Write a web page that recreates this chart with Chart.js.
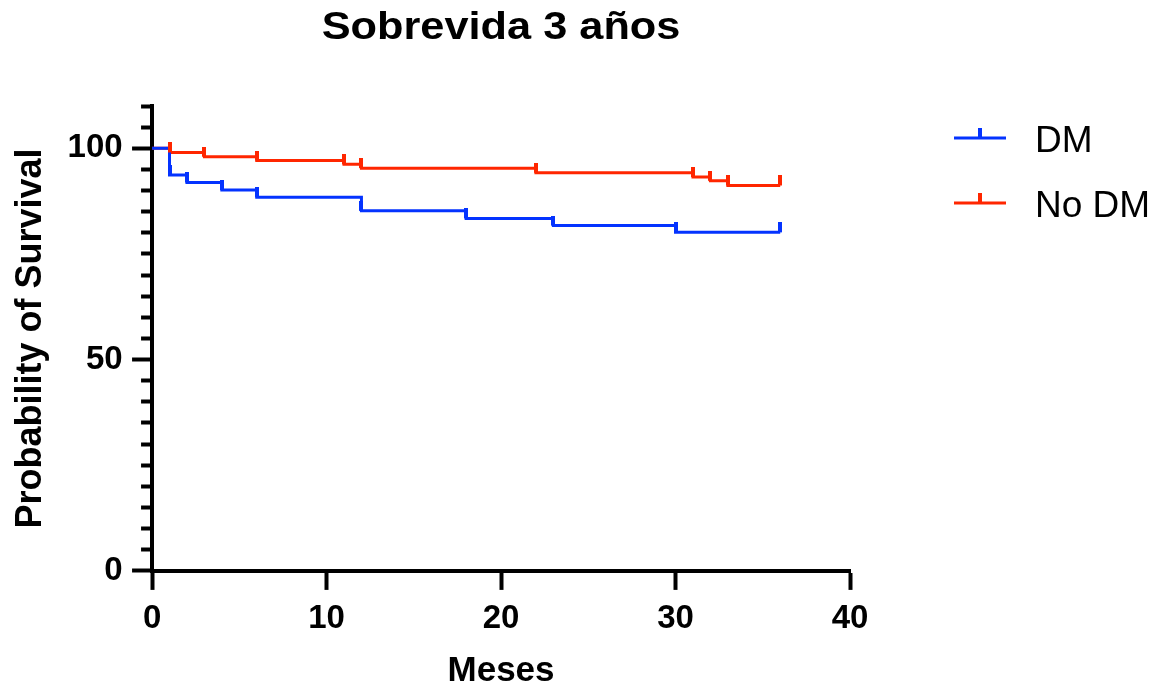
<!DOCTYPE html>
<html>
<head>
<meta charset="utf-8">
<script src="https://cdn.jsdelivr.net/npm/chart.js@4"></script>
<style>
  body { margin: 0; background: #fff; }
  #km { display: block; }
</style>
</head>
<body>
<canvas id="km" width="1159" height="691"></canvas>
<script>
// Kaplan-Meier steps (months, % survival)
const chartTitle = 'Sobrevida 3 años';
const seriesNames = ['DM', 'No DM'];
const seriesColors = ['#0433ff', '#ff2600'];

const dmMonths = [0, 1, 2, 4, 6, 12, 18, 23, 30, 36];
const dmSurvival = [100, 93.7, 91.9, 90.1, 88.4, 85.2, 83.4, 81.7, 80.1, 80.1];
const dmCensorMonths = [1, 2, 4, 6, 12, 18, 23, 30, 36];
const dmCensorSurvival = [93.7, 91.9, 90.1, 88.4, 85.2, 83.4, 81.7, 80.1, 80.1];

const noDmMonths = [0, 1, 3, 6, 11, 12, 22, 31, 32, 33, 36];
const noDmSurvival = [100, 99.0, 98.0, 97.1, 96.2, 95.3, 94.2, 93.2, 92.3, 91.2, 91.2];
const noDmCensorMonths = [1, 3, 6, 11, 12, 22, 31, 32, 33, 36];
const noDmCensorSurvival = [99.0, 98.0, 97.1, 96.2, 95.3, 94.2, 93.2, 92.3, 91.2, 91.2];

const xTicks = [0, 10, 20, 30, 40];
const yLabelled = [0, 50, 100];

function toPoints(xs, ys) {
    return xs.map((x, i) => ({ x: x, y: ys[i] }));
}

// little upward censor tick, used as point style (centered, so only top half is painted)
function censorMark(color) {
    const c = document.createElement('canvas');
    c.width = 4;
    c.height = 20;
    const g = c.getContext('2d');
    g.fillStyle = color;
    g.fillRect(0, 0, 4, 10);
    return c;
}

const font = 'Liberation Sans, Arial, Helvetica, sans-serif';

const titlePlugin = {
    id: 'kmTitle',
    afterDraw(chart) {
        const { ctx, chartArea } = chart;
        ctx.save();
        ctx.fillStyle = '#000';
        ctx.font = 'bold 38px ' + font;
        ctx.textAlign = 'center';
        ctx.textBaseline = 'alphabetic';
        // the original title is set a bit wider than Arial
        ctx.translate((chartArea.left + chartArea.right) / 2, 39);
        ctx.scale(1.14, 1);
        ctx.fillText(chartTitle, 0, 0);
        ctx.restore();
    }
};

const legendPlugin = {
    id: 'kmLegend',
    afterDraw(chart) {
        const { ctx, chartArea } = chart;
        ctx.save();
        seriesNames.forEach((name, i) => {
            const y = 138 + i * 65;
            const x0 = chartArea.right + 104;
            ctx.strokeStyle = seriesColors[i];
            ctx.lineWidth = 3;
            ctx.beginPath();
            ctx.moveTo(x0, y);
            ctx.lineTo(x0 + 52, y);
            ctx.stroke();
            ctx.fillStyle = seriesColors[i];
            ctx.fillRect(x0 + 24, y - 10, 4, 10);
            ctx.fillStyle = '#000';
            ctx.font = '37px ' + font;
            ctx.textAlign = 'left';
            ctx.textBaseline = 'alphabetic';
            ctx.fillText(name, x0 + 81, y + 14);
        });
        ctx.restore();
    }
};

const ctx = document.getElementById('km').getContext('2d');
const myChart = new Chart(ctx, {
    type: 'line',
    data: {
        datasets: [
            {
                label: seriesNames[0] + ' censored',
                data: toPoints(dmCensorMonths, dmCensorSurvival),
                showLine: false,
                pointStyle: censorMark(seriesColors[0]),
                pointRadius: 3,
                clip: false
            },
            {
                label: seriesNames[1] + ' censored',
                data: toPoints(noDmCensorMonths, noDmCensorSurvival),
                showLine: false,
                pointStyle: censorMark(seriesColors[1]),
                pointRadius: 3,
                clip: false
            },
            {
                label: seriesNames[0],
                data: toPoints(dmMonths, dmSurvival),
                borderColor: seriesColors[0],
                borderWidth: 3,
                stepped: 'before',
                pointRadius: 0,
                fill: false,
                clip: false
            },
            {
                label: seriesNames[1],
                data: toPoints(noDmMonths, noDmSurvival),
                borderColor: seriesColors[1],
                borderWidth: 3,
                stepped: 'before',
                pointRadius: 0,
                fill: false,
                clip: false
            }
        ]
    },
    options: {
        responsive: false,
        animation: false,
        devicePixelRatio: 1,
        events: [],
        layout: {
            padding: { top: 106, right: 309, bottom: 0, left: 0 }
        },
        plugins: {
            legend: { display: false },
            tooltip: { enabled: false },
            title: { display: false }
        },
        scales: {
            x: {
                type: 'linear',
                min: 0,
                max: 40,
                afterBuildTicks: function (axis) {
                    axis.ticks = xTicks.map(v => ({ value: v }));
                },
                ticks: {
                    color: '#000',
                    padding: 9,
                    maxRotation: 0,
                    autoSkip: false,
                    font: { family: font, size: 33, weight: 'bold' }
                },
                grid: {
                    display: true,
                    drawOnChartArea: false,
                    drawTicks: true,
                    tickLength: 19,
                    tickWidth: 4,
                    tickColor: '#000'
                },
                border: { display: true, width: 4, color: '#000' },
                title: {
                    display: true,
                    text: 'Meses',
                    color: '#000',
                    font: { family: font, size: 35, weight: 'bold', lineHeight: 1.1 },
                    padding: { top: 5, bottom: 0 }
                }
            },
            y: {
                type: 'linear',
                min: 0,
                max: 110,
                ticks: {
                    stepSize: 5,
                    autoSkip: false,
                    color: '#000',
                    padding: 9.4,
                    font: { family: font, size: 33, weight: 'bold' },
                    callback: function (value) {
                        return yLabelled.includes(value) ? String(value) : '';
                    }
                },
                grid: {
                    display: true,
                    drawOnChartArea: false,
                    drawTicks: true,
                    tickLength: 20,
                    tickWidth: 4,
                    tickColor: '#000',
                    tickBorderDash: function (c) {
                        return (c.tick && yLabelled.includes(c.tick.value)) ? [] : [0, 9, 9, 100];
                    }
                },
                border: { display: true, width: 4, color: '#000' },
                title: {
                    display: true,
                    text: 'Probability of Survival',
                    color: '#000',
                    font: { family: font, size: 36, weight: 'bold' },
                    padding: { top: 9, bottom: 6 }
                }
            }
        }
    },
    plugins: [titlePlugin, legendPlugin]
});
</script>
</body>
</html>
